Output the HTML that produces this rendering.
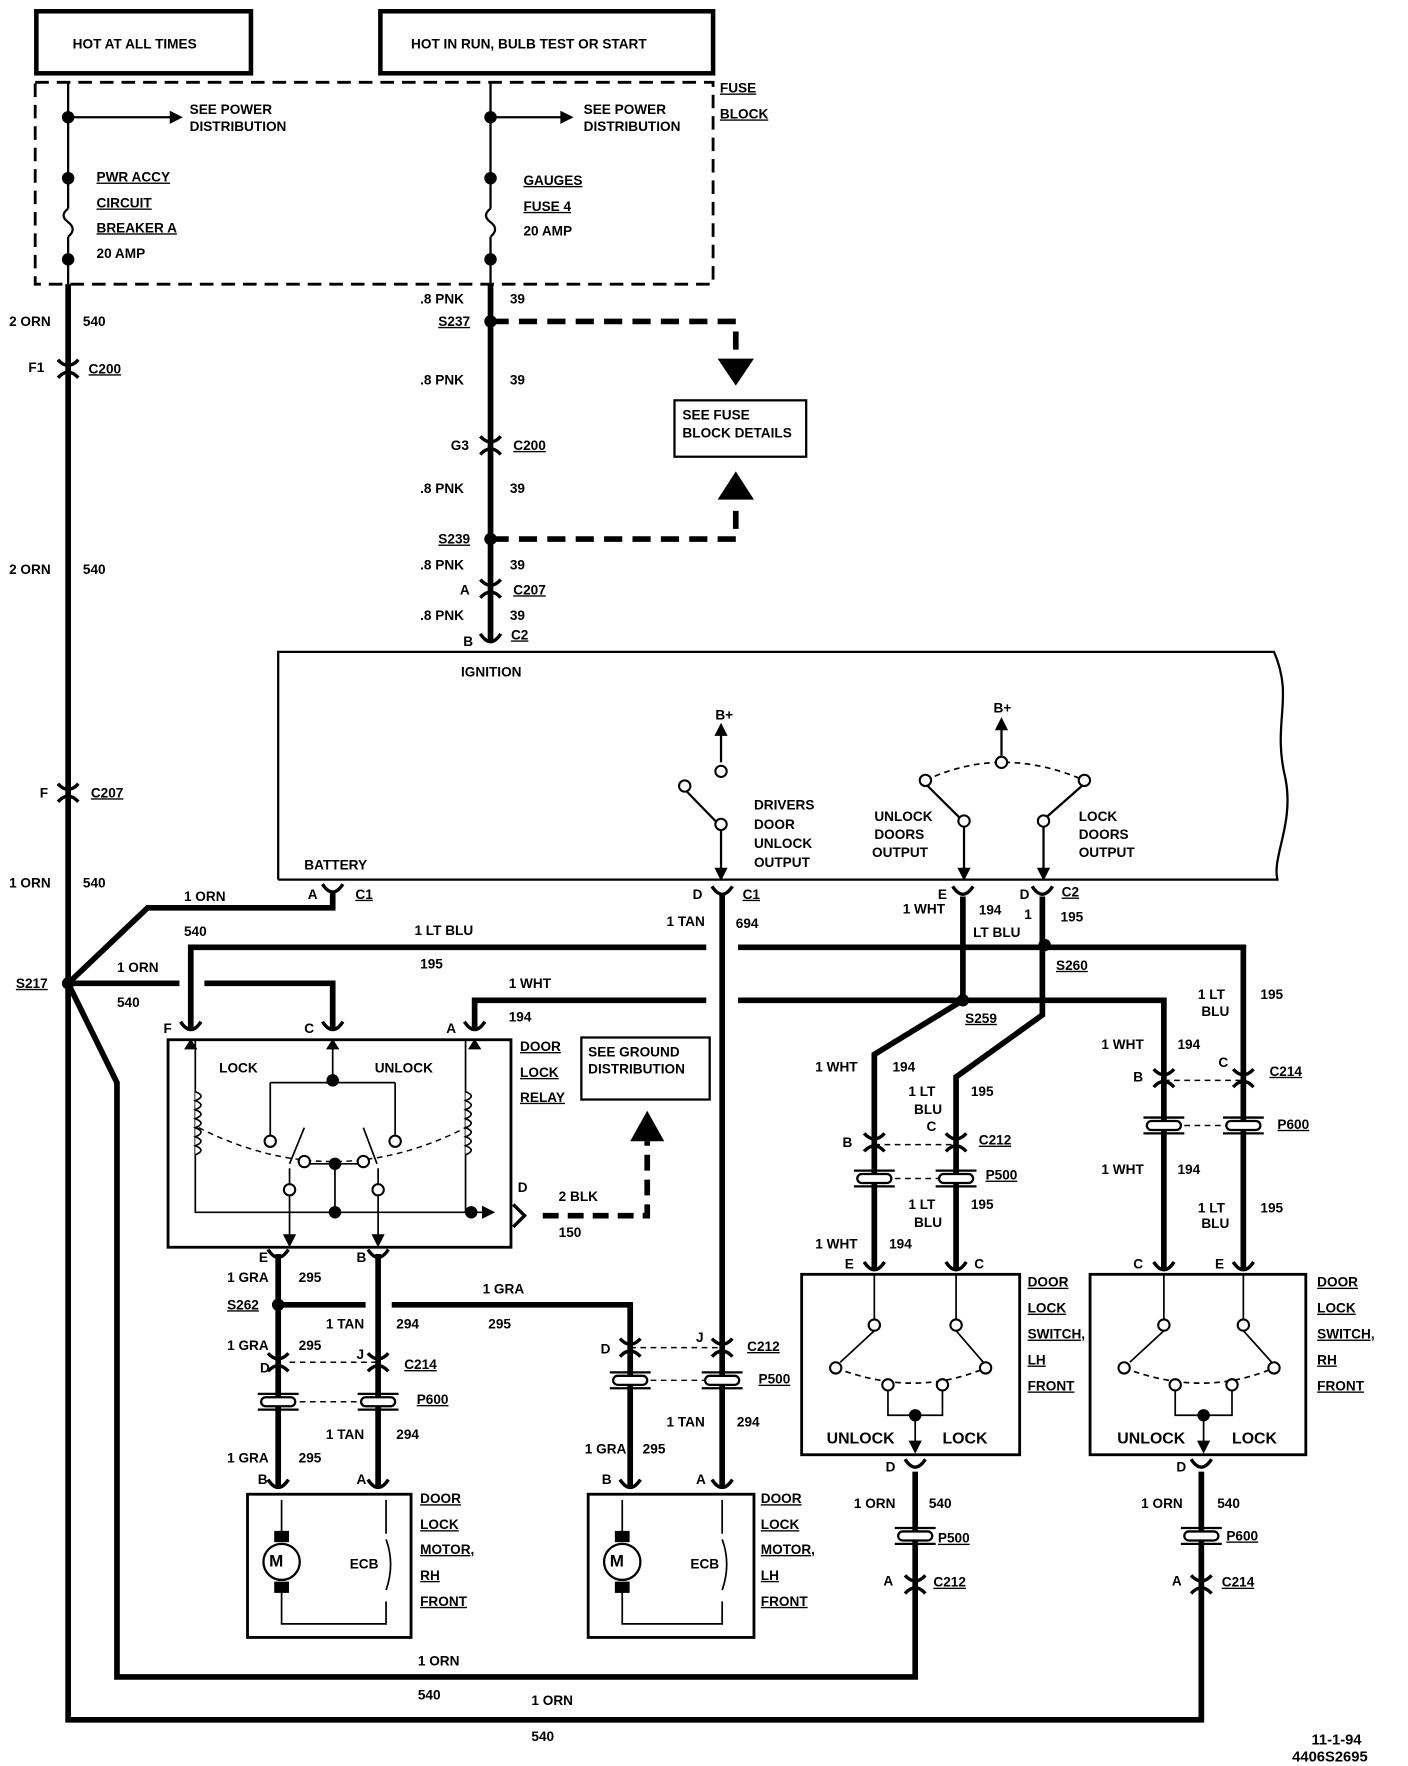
<!DOCTYPE html>
<html><head><meta charset="utf-8"><style>
html,body{margin:0;padding:0;background:#fff}
svg{display:block}
text{font-family:"Liberation Sans",sans-serif;font-size:12px;font-weight:bold;fill:#000}
.u{text-decoration:underline}
</style></head><body>
<svg width="1408" height="1766" viewBox="0 0 1240 1566" preserveAspectRatio="none" xmlns="http://www.w3.org/2000/svg">
<defs>
<g id="dc"><path d="M-9,-8 Q0,2 9,-8 M-9,8 Q0,-2 9,8" fill="none" stroke="#000" stroke-width="3"/></g>
<g id="cup"><path d="M-9,-6 Q0,8 9,-6" fill="none" stroke="#000" stroke-width="3"/></g>
<g id="pp"><rect x="-15" y="-4" width="30" height="8" rx="4" fill="#fff" stroke="#000" stroke-width="2"/><path d="M-18,-7 H18 M-18,7 H18" stroke="#000" stroke-width="2"/></g>
<g id="dot"><circle r="5.5" fill="#000"/></g>
<g id="oc"><circle r="5" fill="#fff" stroke="#000" stroke-width="1.8"/></g>
</defs>
<g fill="none" stroke="#000">
<rect x="32" y="10" width="189" height="55" stroke-width="4"/>
<rect x="335" y="10" width="293" height="55" stroke-width="4"/>
<rect x="31" y="73" width="597" height="179" stroke-width="2.5" stroke-dasharray="12,7"/>
<path d="M60,73 V185 M60,210 V252 M432,73 V185 M432,210 V252" stroke-width="2"/>
<path d="M60,185 q-8,6 0,12 q8,6 0,13 M432,185 q-8,6 0,12 q8,6 0,13" stroke-width="2"/>
<path d="M60,104 H150 M432,104 H494" stroke-width="2"/>
<path d="M150,99 L160,104 L150,109Z M494,99 L504,104 L494,109Z" fill="#000"/>
<path d="M60,252 V1525 H1058 V1305" stroke-width="5"/>
<path d="M60,872 L103,960 V1487 H806 V1305" stroke-width="5"/>
<path d="M60,872 L130,805 H293 V792" stroke-width="5"/>
<path d="M60,872 H158 M180,872 H293 V912" stroke-width="5"/>
<path d="M432,252 V568" stroke-width="5"/>
<path d="M432,285 H648 V318 M432,478 H648 V448" stroke-width="5" stroke-dasharray="16,9"/>
<path d="M632,318 H664 L648,342Z M632,443 H664 L648,418Z" fill="#000" stroke="none"/>
<rect x="594" y="355" width="116" height="50" stroke-width="2"/>
<path d="M245,780 V578 H1122 C1140,620 1120,640 1132,690 C1140,730 1120,760 1125,780 H245" stroke-width="2"/>
<path d="M635,676 V650 M603,700 L632,730 M635,736 V775" stroke-width="2"/>
<path d="M630,652 L635,642 L640,652Z M630,770 L635,780 L640,770Z" fill="#000"/>
<path d="M882,670 V645 M815,695 L846,726 M955,695 L920,726 M849,733 V775 M919,733 V775" stroke-width="2"/>
<path d="M815,692 Q882,660 955,692" stroke-width="1.5" stroke-dasharray="5,4"/>
<path d="M877,647 L882,637 L887,647Z M844,770 L849,780 L854,770Z M914,770 L919,780 L924,770Z" fill="#000"/>
<path d="M636,792 V1320" stroke-width="5"/>
<path d="M848,795 V887 L770,935 V1125" stroke-width="5"/>
<path d="M918,795 V900 L842,955 V1125" stroke-width="5"/>
<path d="M168,912 V840 H622 M650,840 H1095 V1125" stroke-width="5"/>
<path d="M418,912 V887 H622 M650,887 H1025 V1125" stroke-width="5"/>
<rect x="148" y="922" width="302" height="184" stroke-width="2.5"/>
<path d="M172,922 V1075 H430 M293,922 V960 M238,960 H348 M238,960 V1008 M348,960 V1008 M410,922 V1075" stroke-width="1.5"/>
<path d="M172,968 q10,4 0,8 q10,4 0,8 q10,4 0,8 q10,4 0,8 q10,4 0,8 q10,4 0,8 q10,4 0,8 M410,968 q10,4 0,8 q10,4 0,8 q10,4 0,8 q10,4 0,8 q10,4 0,8 q10,4 0,8 q10,4 0,8" fill="#fff" stroke-width="1.5"/>
<path d="M175,1000 Q293,1060 410,1000" stroke-width="1.3" stroke-dasharray="5,4"/>
<path d="M268,1000 L255,1032 M320,1000 L332,1032 M270,1032 H320 M295,1032 V1075 M255,1055 V1100 M333,1055 V1100 M255,1036 V1050 M333,1036 V1050" stroke-width="1.5"/>
<path d="M425,1070 L435,1075 L425,1080Z M250,1095 L255,1105 L260,1095Z M328,1095 L333,1105 L338,1095Z M163,930 L168,922 L173,930Z M288,930 L293,922 L298,930Z M413,930 L418,922 L423,930Z" fill="#000"/>
<path d="M478,1078 H570 V1012" stroke-width="5" stroke-dasharray="14,8"/>
<path d="M555,1012 H585 L570,985Z" fill="#000" stroke="none"/>
<rect x="512" y="920" width="113" height="55" stroke-width="2"/>
<path d="M452,1068 L462,1078 L452,1088" stroke-width="3"/>
<path d="M245,1112 V1318 M333,1112 V1318" stroke-width="5"/>
<path d="M245,1157 H322 M345,1157 H555 V1318" stroke-width="5"/>
<path d="M255,1208 H333 M255,1243 H333 M555,1195 H636 M555,1224 H636 M770,1015 H842 M770,1045 H842 M1025,958 H1095 M1025,998 H1095" stroke-width="1.3" stroke-dasharray="5,4"/>
<rect x="218" y="1325" width="144" height="127" stroke-width="2.5"/>
<rect x="518" y="1325" width="146" height="127" stroke-width="2.5"/>
<path d="M248,1330 V1367 M248,1403 V1440 H340 V1420 M340,1330 V1360 M340,1365 q8,22 0,45" stroke-width="1.5"/>
<path d="M548,1330 V1367 M548,1403 V1440 H636 V1420 M636,1330 V1360 M636,1365 q8,22 0,45" stroke-width="1.5"/>
<circle cx="248" cy="1385" r="16" fill="#fff" stroke-width="2"/>
<circle cx="548" cy="1385" r="16" fill="#fff" stroke-width="2"/>
<rect x="242" y="1358" width="12" height="9" fill="#000"/><rect x="242" y="1403" width="12" height="9" fill="#000"/>
<rect x="542" y="1358" width="12" height="9" fill="#000"/><rect x="542" y="1403" width="12" height="9" fill="#000"/>
<rect x="706" y="1130" width="192" height="160" stroke-width="2.5"/>
<rect x="960" y="1130" width="190" height="160" stroke-width="2.5"/>
<g stroke-width="1.5">
<path d="M770,1130 V1172 M842,1130 V1172 M770,1180 L740,1208 M842,1180 L866,1208 M782,1232 V1255 H830 V1232 M806,1255 V1285"/>
<path d="M1025,1130 V1172 M1095,1130 V1172 M1025,1180 L995,1208 M1095,1180 L1120,1208 M1035,1232 V1255 H1085 V1232 M1060,1255 V1285"/>
<path d="M736,1213 Q806,1240 868,1213 M990,1213 Q1060,1240 1122,1213" stroke-dasharray="5,4"/>
</g>
<path d="M801,1278 L806,1288 L811,1278Z M1055,1278 L1060,1288 L1065,1278Z" fill="#000"/>
</g>
<use href="#dot" x="60" y="104"/><use href="#dot" x="60" y="158"/><use href="#dot" x="60" y="230"/>
<use href="#dot" x="432" y="104"/><use href="#dot" x="432" y="158"/><use href="#dot" x="432" y="230"/>
<use href="#dot" x="432" y="285"/><use href="#dot" x="432" y="478"/><use href="#dot" x="60" y="872"/>
<use href="#dot" x="920" y="838"/><use href="#dot" x="848" y="887"/><use href="#dot" x="245" y="1157"/>
<use href="#dot" x="293" y="958"/><use href="#dot" x="295" y="1032"/><use href="#dot" x="295" y="1075"/><use href="#dot" x="415" y="1075"/>
<use href="#dot" x="806" y="1255"/><use href="#dot" x="1060" y="1255"/>
<use href="#oc" x="635" y="684"/><use href="#oc" x="603" y="697"/><use href="#oc" x="635" y="731"/>
<use href="#oc" x="882" y="676"/><use href="#oc" x="815" y="692"/><use href="#oc" x="955" y="692"/><use href="#oc" x="849" y="728"/><use href="#oc" x="919" y="728"/>
<use href="#oc" x="238" y="1012"/><use href="#oc" x="348" y="1012"/><use href="#oc" x="268" y="1030"/><use href="#oc" x="320" y="1030"/><use href="#oc" x="255" y="1055"/><use href="#oc" x="333" y="1055"/>
<use href="#oc" x="770" y="1175"/><use href="#oc" x="842" y="1175"/><use href="#oc" x="736" y="1213"/><use href="#oc" x="868" y="1213"/><use href="#oc" x="782" y="1228"/><use href="#oc" x="830" y="1228"/>
<use href="#oc" x="1025" y="1175"/><use href="#oc" x="1095" y="1175"/><use href="#oc" x="990" y="1213"/><use href="#oc" x="1122" y="1213"/><use href="#oc" x="1035" y="1228"/><use href="#oc" x="1085" y="1228"/>
<use href="#dc" x="60" y="327"/><use href="#dc" x="60" y="703"/><use href="#dc" x="432" y="395"/><use href="#dc" x="432" y="522"/>
<use href="#cup" x="432" y="568"/><use href="#cup" x="293" y="790"/><use href="#cup" x="636" y="792"/><use href="#cup" x="848" y="792"/><use href="#cup" x="918" y="792"/>
<use href="#cup" x="168" y="912"/><use href="#cup" x="293" y="912"/><use href="#cup" x="418" y="912"/>
<use href="#cup" x="245" y="1114"/><use href="#cup" x="333" y="1114"/>
<use href="#dc" x="245" y="1208"/><use href="#dc" x="333" y="1208"/><use href="#pp" x="245" y="1243"/><use href="#pp" x="333" y="1243"/>
<use href="#dc" x="555" y="1195"/><use href="#dc" x="636" y="1195"/><use href="#pp" x="555" y="1224"/><use href="#pp" x="636" y="1224"/>
<use href="#cup" x="245" y="1318"/><use href="#cup" x="333" y="1318"/><use href="#cup" x="555" y="1318"/><use href="#cup" x="636" y="1318"/>
<use href="#dc" x="770" y="1013"/><use href="#dc" x="842" y="1013"/><use href="#pp" x="770" y="1045"/><use href="#pp" x="842" y="1045"/>
<use href="#dc" x="1025" y="956"/><use href="#dc" x="1095" y="956"/><use href="#pp" x="1025" y="998"/><use href="#pp" x="1095" y="998"/>
<use href="#cup" x="770" y="1125"/><use href="#cup" x="842" y="1125"/><use href="#cup" x="1025" y="1125"/><use href="#cup" x="1095" y="1125"/>
<use href="#cup" x="806" y="1300"/><use href="#cup" x="1058" y="1300"/>
<use href="#pp" x="806" y="1362"/><use href="#pp" x="1058" y="1362"/><use href="#dc" x="806" y="1405"/><use href="#dc" x="1058" y="1405"/>
<text x="64" y="43">HOT AT ALL TIMES</text>
<text x="362" y="43">HOT IN RUN, BULB TEST OR START</text>
<text x="167" y="101">SEE POWER</text><text x="167" y="116">DISTRIBUTION</text>
<text x="514" y="101">SEE POWER</text><text x="514" y="116">DISTRIBUTION</text>
<text x="634" y="82" class="u">FUSE</text><text x="634" y="105" class="u">BLOCK</text>
<text x="85" y="161" class="u">PWR ACCY</text><text x="85" y="184" class="u">CIRCUIT</text><text x="85" y="206" class="u">BREAKER A</text><text x="85" y="229">20 AMP</text>
<text x="461" y="164" class="u">GAUGES</text><text x="461" y="187" class="u">FUSE 4</text><text x="461" y="209">20 AMP</text>
<text x="8" y="289">2 ORN</text><text x="73" y="289">540</text>
<text x="25" y="330">F1</text><text x="78" y="331" class="u">C200</text>
<text x="8" y="509">2 ORN</text><text x="73" y="509">540</text>
<text x="35" y="707">F</text><text x="80" y="707" class="u">C207</text>
<text x="8" y="787">1 ORN</text><text x="73" y="787">540</text>
<text x="14" y="876" class="u">S217</text>
<text x="370" y="269">.8 PNK</text><text x="449" y="269">39</text>
<text x="386" y="289" class="u">S237</text>
<text x="370" y="341">.8 PNK</text><text x="449" y="341">39</text>
<text x="397" y="399">G3</text><text x="452" y="399" class="u">C200</text>
<text x="370" y="437">.8 PNK</text><text x="449" y="437">39</text>
<text x="386" y="482" class="u">S239</text>
<text x="370" y="505">.8 PNK</text><text x="449" y="505">39</text>
<text x="405" y="527">A</text><text x="452" y="527" class="u">C207</text>
<text x="370" y="550">.8 PNK</text><text x="449" y="550">39</text>
<text x="408" y="573">B</text><text x="450" y="567" class="u">C2</text>
<text x="406" y="600">IGNITION</text>
<text x="601" y="372">SEE FUSE</text><text x="601" y="388">BLOCK DETAILS</text>
<text x="630" y="638">B+</text><text x="875" y="632">B+</text>
<text x="664" y="718">DRIVERS</text><text x="664" y="735">DOOR</text><text x="664" y="752">UNLOCK</text><text x="664" y="769">OUTPUT</text>
<text x="770" y="728">UNLOCK</text><text x="770" y="744">DOORS</text><text x="768" y="760">OUTPUT</text>
<text x="950" y="728">LOCK</text><text x="950" y="744">DOORS</text><text x="950" y="760">OUTPUT</text>
<text x="268" y="771">BATTERY</text>
<text x="271" y="797">A</text><text x="313" y="797" class="u">C1</text>
<text x="162" y="799">1 ORN</text><text x="162" y="830">540</text>
<text x="610" y="797">D</text><text x="654" y="797" class="u">C1</text>
<text x="587" y="821">1 TAN</text><text x="648" y="823">694</text>
<text x="826" y="797">E</text><text x="795" y="810">1 WHT</text><text x="862" y="811">194</text>
<text x="898" y="797">D</text><text x="935" y="795" class="u">C2</text><text x="902" y="815">1</text><text x="934" y="817">195</text>
<text x="857" y="831">LT BLU</text>
<text x="365" y="829">1 LT BLU</text><text x="370" y="859">195</text>
<text x="930" y="860" class="u">S260</text><text x="850" y="907" class="u">S259</text>
<text x="103" y="862">1 ORN</text><text x="103" y="893">540</text>
<text x="448" y="876">1 WHT</text><text x="448" y="906">194</text>
<text x="144" y="916">F</text><text x="268" y="916">C</text><text x="393" y="916">A</text>
<text x="193" y="951">LOCK</text><text x="330" y="951">UNLOCK</text>
<text x="458" y="932" class="u">DOOR</text><text x="458" y="955" class="u">LOCK</text><text x="458" y="977" class="u">RELAY</text>
<text x="518" y="937">SEE GROUND</text><text x="518" y="952">DISTRIBUTION</text>
<text x="456" y="1057">D</text><text x="492" y="1065">2 BLK</text><text x="492" y="1097">150</text>
<text x="228" y="1119">E</text><text x="314" y="1119">B</text>
<text x="200" y="1137">1 GRA</text><text x="263" y="1137">295</text>
<text x="425" y="1147">1 GRA</text><text x="430" y="1178">295</text>
<text x="200" y="1161" class="u">S262</text>
<text x="287" y="1178">1 TAN</text><text x="349" y="1178">294</text>
<text x="200" y="1197">1 GRA</text><text x="263" y="1197">295</text>
<text x="229" y="1217">D</text><text x="314" y="1205">J</text><text x="356" y="1214" class="u">C214</text>
<text x="367" y="1245" class="u">P600</text>
<text x="287" y="1276">1 TAN</text><text x="349" y="1276">294</text>
<text x="200" y="1297">1 GRA</text><text x="263" y="1297">295</text>
<text x="227" y="1316">B</text><text x="314" y="1316">A</text>
<text x="529" y="1200">D</text><text x="613" y="1190">J</text><text x="658" y="1198" class="u">C212</text>
<text x="668" y="1227" class="u">P500</text>
<text x="587" y="1265">1 TAN</text><text x="649" y="1265">294</text>
<text x="515" y="1289">1 GRA</text><text x="566" y="1289">295</text>
<text x="530" y="1316">B</text><text x="613" y="1316">A</text>
<text x="237" y="1389" style="font-size:15px">M</text><text x="537" y="1389" style="font-size:15px">M</text>
<text x="308" y="1391">ECB</text><text x="608" y="1391">ECB</text>
<text x="370" y="1333" class="u">DOOR</text><text x="370" y="1356" class="u">LOCK</text><text x="370" y="1378" class="u">MOTOR,</text><text x="370" y="1401" class="u">RH</text><text x="370" y="1424" class="u">FRONT</text>
<text x="670" y="1333" class="u">DOOR</text><text x="670" y="1356" class="u">LOCK</text><text x="670" y="1378" class="u">MOTOR,</text><text x="670" y="1401" class="u">LH</text><text x="670" y="1424" class="u">FRONT</text>
<text x="718" y="950">1 WHT</text><text x="786" y="950">194</text>
<text x="800" y="972">1 LT</text><text x="805" y="988">BLU</text><text x="855" y="972">195</text>
<text x="742" y="1017">B</text><text x="816" y="1003">C</text><text x="862" y="1015" class="u">C212</text>
<text x="868" y="1046" class="u">P500</text>
<text x="800" y="1072">1 LT</text><text x="805" y="1088">BLU</text><text x="855" y="1072">195</text>
<text x="718" y="1107">1 WHT</text><text x="783" y="1107">194</text>
<text x="744" y="1125">E</text><text x="858" y="1125">C</text>
<text x="1055" y="886">1 LT</text><text x="1058" y="901">BLU</text><text x="1110" y="886">195</text>
<text x="970" y="930">1 WHT</text><text x="1037" y="930">194</text>
<text x="998" y="959">B</text><text x="1073" y="946">C</text><text x="1118" y="954" class="u">C214</text>
<text x="1125" y="1001" class="u">P600</text>
<text x="970" y="1041">1 WHT</text><text x="1037" y="1041">194</text>
<text x="1055" y="1075">1 LT</text><text x="1058" y="1089">BLU</text><text x="1110" y="1075">195</text>
<text x="998" y="1125">C</text><text x="1070" y="1125">E</text>
<text x="905" y="1141" class="u">DOOR</text><text x="905" y="1164" class="u">LOCK</text><text x="905" y="1187" class="u">SWITCH,</text><text x="905" y="1210" class="u">LH</text><text x="905" y="1233" class="u">FRONT</text>
<text x="1160" y="1141" class="u">DOOR</text><text x="1160" y="1164" class="u">LOCK</text><text x="1160" y="1187" class="u">SWITCH,</text><text x="1160" y="1210" class="u">RH</text><text x="1160" y="1233" class="u">FRONT</text>
<text x="728" y="1280" style="font-size:14px">UNLOCK</text><text x="830" y="1280" style="font-size:14px">LOCK</text>
<text x="984" y="1280" style="font-size:14px">UNLOCK</text><text x="1085" y="1280" style="font-size:14px">LOCK</text>
<text x="780" y="1305">D</text><text x="1036" y="1305">D</text>
<text x="752" y="1337">1 ORN</text><text x="818" y="1337">540</text>
<text x="1005" y="1337">1 ORN</text><text x="1072" y="1337">540</text>
<text x="826" y="1368" class="u">P500</text><text x="1080" y="1366" class="u">P600</text>
<text x="778" y="1406">A</text><text x="822" y="1407" class="u">C212</text>
<text x="1032" y="1406">A</text><text x="1076" y="1407" class="u">C214</text>
<text x="368" y="1477">1 ORN</text><text x="368" y="1507">540</text>
<text x="468" y="1512">1 ORN</text><text x="468" y="1544">540</text>
<text x="1155" y="1547" style="font-size:13px">11-1-94</text>
<text x="1138" y="1562" style="font-size:13px">4406S2695</text>
</svg>
</body></html>
